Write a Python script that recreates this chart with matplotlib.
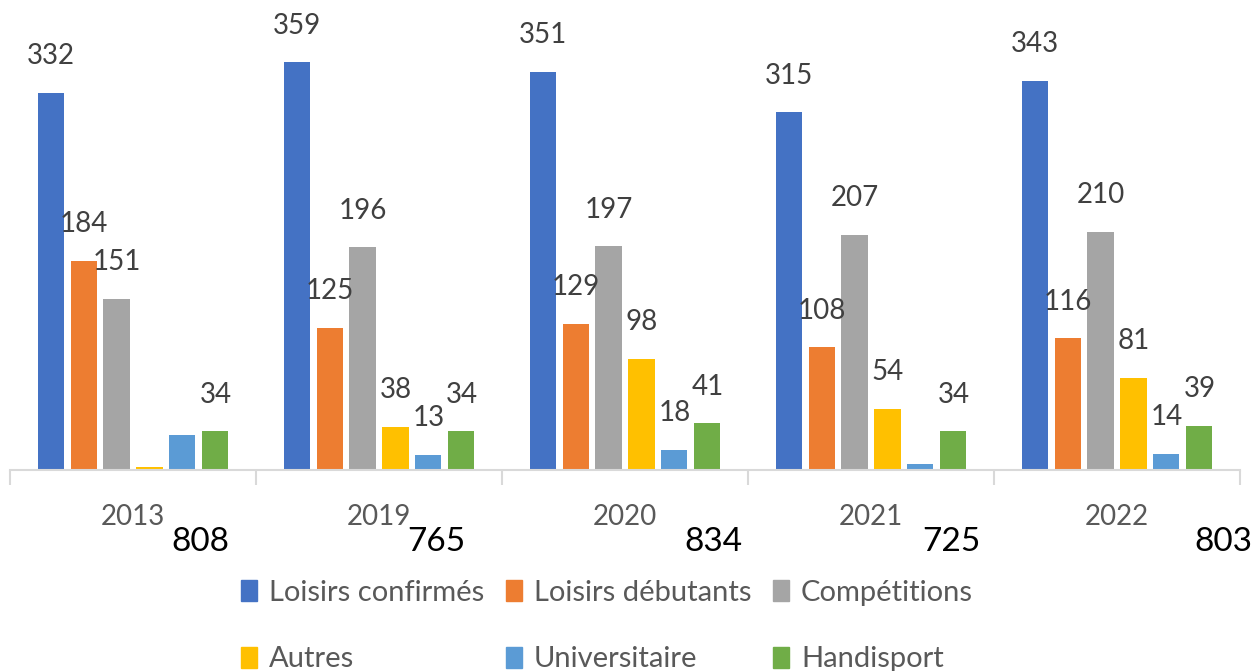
import numpy as np
import matplotlib.pyplot as plt
from matplotlib.patches import Patch

plt.rcParams['font.family'] = ['Lato', 'DejaVu Sans']

# DATA
years = ['2013', '2019', '2020', '2021', '2022']
totals = ['808', '765', '834', '725', '803']
series = ['Loisirs confirmés', 'Loisirs débutants', 'Compétitions',
          'Autres', 'Universitaire', 'Handisport']
loisirs_confirmes = [332, 359, 351, 315, 343]
loisirs_debutants = [184, 125, 129, 108, 116]
competitions = [151, 196, 197, 207, 210]
autres = [3, 38, 98, 54, 81]
universitaire = [31, 13, 18, 5, 14]
handisport = [34, 34, 41, 34, 39]
# which values carry a label in the original
show_label = [
    [True] * 5,
    [True] * 5,
    [True] * 5,
    [False, True, True, True, True],
    [False, True, True, False, True],
    [True] * 5,
]
colors = ['#4472C4', '#ED7D31', '#A5A5A5', '#FFC000', '#5B9BD5', '#70AD47']
# where the total text sits to the right of each year (in category widths)
total_shift = [0.272, 0.232, 0.358, 0.325, 0.431]

values = [loisirs_confirmes, loisirs_debutants, competitions,
          autres, universitaire, handisport]

fig = plt.figure(figsize=(12.57, 6.71), dpi=100)
ax = fig.add_axes([10 / 1257, 1 - 470 / 671, 1230 / 1257, 470 / 671])

x = np.arange(len(years))
step = 0.134
width = 0.106
for i, (name, vals) in enumerate(zip(series, values)):
    pos = x + (i - 2.5) * step
    ax.bar(pos, vals, width, color=colors[i], label=name)
    for p, v, s in zip(pos, vals, show_label[i]):
        if s:
            ax.annotate(str(v), (p, v), xytext=(0, 26.5), textcoords='offset points',
                        ha='center', va='center', fontsize=20, color='#404040')

ax.set_xlim(-0.5, len(years) - 0.5)
ax.set_ylim(0, 414)
for side in ['top', 'right', 'left']:
    ax.spines[side].set_visible(False)
ax.spines['bottom'].set_color('#D9D9D9')
ax.spines['bottom'].set_linewidth(1.5)
ax.set_yticks([])
ax.set_xticks(np.arange(len(years) + 1) - 0.5)
ax.set_xticklabels([])
ax.tick_params(axis='x', length=11, width=1.5, color='#D9D9D9')

for xi, yr, tot, sh in zip(x, years, totals, total_shift):
    ax.annotate(yr, (xi, 0), xytext=(0, -34), textcoords='offset points',
                ha='center', va='center', fontsize=20, color='#595959')
    ax.annotate(tot, (xi + sh, 0), xytext=(0, -52), textcoords='offset points',
                ha='center', va='center', fontsize=24, color='black')

# legend filled row by row like the original
order = [0, 3, 1, 4, 2, 5]
handles = [Patch(color=colors[k]) for k in order]
labels = [series[k] for k in order]
fig.legend(handles, labels, ncol=3, loc='center', bbox_to_anchor=(0.483, 0.067),
           frameon=False, fontsize=21, labelcolor='#595959',
           handlelength=0.55, handleheight=0.75, handletextpad=0.4,
           columnspacing=0.75, labelspacing=1.4)

fig.savefig('out.png', dpi=100)
